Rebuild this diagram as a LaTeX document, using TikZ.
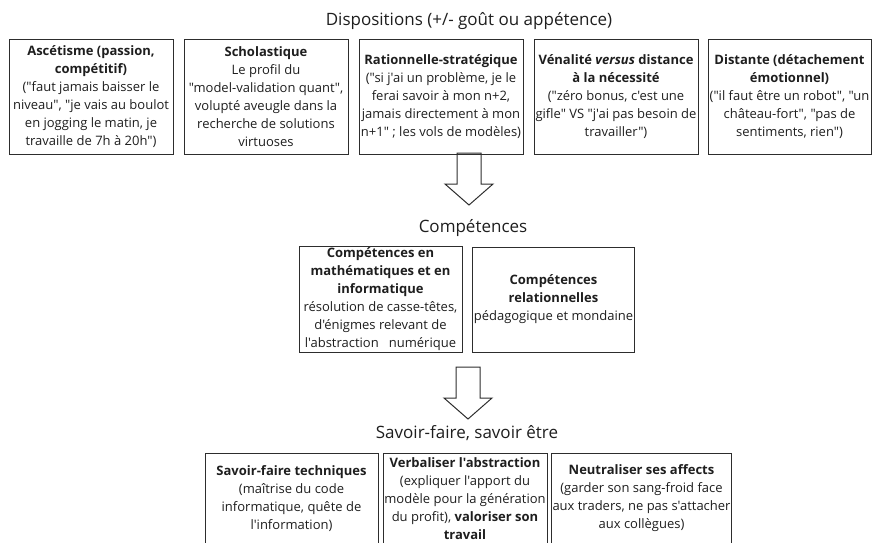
\documentclass[tikz,border=0pt]{standalone}
\usepackage{fontspec}
\setmainfont{Open Sans}[Ligatures=TeXOff]
\usetikzlibrary{calc}

\definecolor{boxline}{RGB}{45,45,45}
\definecolor{ink}{RGB}{30,30,30}

\begin{document}
\begin{tikzpicture}[x=1pt,y=-1pt,
  title/.style={anchor=base,text=ink,font=\fontsize{17}{20}\selectfont},
  card/.style={draw=boxline,line width=1pt,align=center,inner sep=1pt,text=ink,
    font=\fontsize{13}{18}\selectfont},
  arrowline/.style={draw=boxline,line width=1pt}]
  \useasboundingbox (0,0) rectangle (872,542);

  \node[title] (dispo) at (469,25) {Dispositions (+/- goût ou appétence)};
  \node[card,minimum width=164pt,minimum height=115pt] (asce) at (91,96.5)
    {\textbf{Ascétisme (passion,}\\\textbf{compétitif)}\\("faut jamais baisser le\\niveau", "je vais au boulot\\en jogging le matin, je\\travaille de 7h à 20h")};
  \node[card,minimum width=164pt,minimum height=115pt] (scho) at (266,96.5)
    {\textbf{Scholastique}\\Le profil du\\"model-validation quant",\\volupté aveugle dans la\\recherche de solutions\\virtuoses};
  \node[card,minimum width=164pt,minimum height=115pt] (rati) at (441,96.5)
    {\textbf{Rationnelle-stratégique}\\("si j'ai un problème, je le\\ferai savoir à mon n+2,\\jamais directement à mon\\n+1" ; les vols de modèles)};
  \node[card,minimum width=164pt,minimum height=115pt] (vena) at (616,96.5)
    {\textbf{Vénalité \textit{versus} distance}\\\textbf{à la nécessité}\\("zéro bonus, c'est une\\gifle" VS "j'ai pas besoin de\\travailler")};
  \node[card,minimum width=163pt,minimum height=115pt] (dist) at (789.5,96.5)
    {\textbf{Distante (détachement}\\\textbf{émotionnel)}\\("il faut être un robot", "un\\château-fort", "pas de\\sentiments, rien")};

  \node[title] (comp) at (473,232) {Compétences};
  \node[card,minimum width=163pt,minimum height=105pt] (compmath) at (380.5,299.5)
    {\textbf{Compétences en}\\\textbf{mathématiques et en}\\\textbf{informatique}\\résolution de casse-têtes,\\d'énigmes relevant de\\l'abstraction\ \ \ numérique};
  \node[card,minimum width=161pt,minimum height=105pt] (comprel) at (553.5,299.5)
    {\textbf{Compétences}\\\textbf{relationnelles}\\pédagogique et mondaine};

  \node[title] (savoir) at (467,438) {Savoir-faire, savoir être};
  \node[card,minimum width=173pt,minimum height=90pt] (techn) at (291.5,498.5)
    {\textbf{Savoir-faire techniques}\\(maîtrise du code\\informatique, quête de\\l'information)};
  \node[card,minimum width=164pt,minimum height=90pt] (verba) at (465,498.5)
    {\textbf{Verbaliser l'abstraction}\\(expliquer l'apport du\\modèle pour la génération\\du profit), \textbf{valoriser son}\\\textbf{travail}};
  \node[card,minimum width=179pt,minimum height=90pt] (neutr) at (641.5,498.5)
    {\textbf{Neutraliser ses affects}\\(garder son sang-froid face\\aux traders, ne pas s'attacher\\aux collègues)};

  \coordinate (arr1) at (469,153);
  \coordinate (arr2) at (468,367);
  \foreach \a in {arr1,arr2}
    \draw[arrowline] (\a) ++(-12,0) -- ++(24,0) -- ++(0,31) -- ++(12,0) -- ++(-24,21) -- ++(-24,-21) -- ++(12,0) -- cycle;
\end{tikzpicture}
\end{document}
